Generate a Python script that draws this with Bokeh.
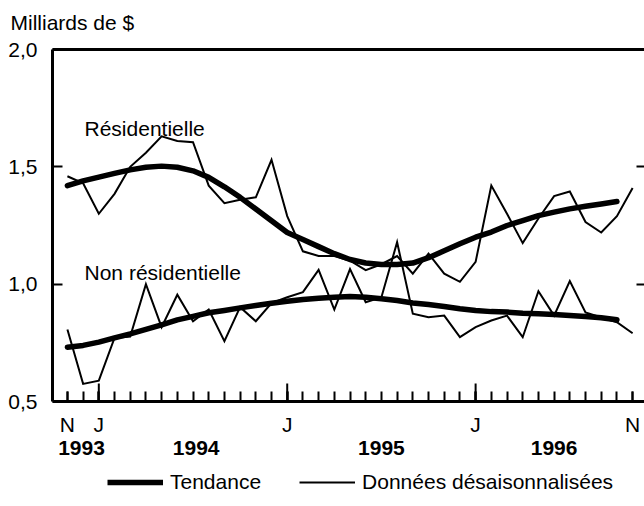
from math import pi
from bokeh.plotting import figure
from bokeh.layouts import column
from bokeh.models import (Range1d, LinearAxis, FixedTicker, Legend, LegendItem,
                          Label, ColumnDataSource)
from bokeh.embed import file_html
from bokeh.resources import INLINE

# ---- data (monthly, Nov 1993 .. Nov 1996) ----
month_index = list(range(37))
res_raw = [1.46, 1.43, 1.30, 1.385, 1.50, 1.56, 1.63, 1.61, 1.605, 1.42,
           1.345, 1.36, 1.37, 1.53, 1.29, 1.14, 1.12, 1.12, 1.10, 1.06,
           1.085, 1.12, 1.045, 1.13, 1.045, 1.01, 1.095, 1.42, 1.30, 1.175,
           1.28, 1.375, 1.395, 1.265, 1.22, 1.29, 1.41]
res_trend = [1.42, 1.44, 1.456, 1.472, 1.487, 1.498, 1.503, 1.498, 1.483, 1.455,
             1.415, 1.37, 1.32, 1.27, 1.22, 1.19, 1.16, 1.13, 1.105, 1.09,
             1.084, 1.084, 1.09, 1.113, 1.142, 1.172, 1.20, 1.222, 1.25, 1.271,
             1.292, 1.307, 1.321, 1.332, 1.342, 1.352]
nonres_raw = [0.807, 0.575, 0.589, 0.771, 0.777, 1.0, 0.817, 0.955, 0.842, 0.892,
              0.757, 0.902, 0.842, 0.919, 0.944, 0.966, 1.061, 0.892, 1.064, 0.923,
              0.944, 1.179, 0.874, 0.859, 0.866, 0.774, 0.817, 0.845, 0.866, 0.774,
              0.97, 0.866, 1.013, 0.88, 0.858, 0.838, 0.791]
nonres_trend = [0.731, 0.739, 0.753, 0.771, 0.788, 0.807, 0.827, 0.848, 0.863, 0.878,
                0.888, 0.899, 0.909, 0.919, 0.927, 0.935, 0.94, 0.944, 0.947, 0.944,
                0.938, 0.93, 0.92, 0.913, 0.905, 0.895, 0.888, 0.883, 0.881, 0.876,
                0.874, 0.871, 0.866, 0.862, 0.857, 0.848]

month_ticks = [0, 2, 14, 26, 36]
month_tick_labels = ["N", "J", "J", "J", "N"]
jan_ticks = [2, 14, 26]
year_ticks = [0.9, 8.2, 20, 31]
year_labels = ["1993", "1994", "1995", "1996"]
y_ticks = [0.5, 1.0, 1.5, 2.0]
y_tick_labels = ["0,5", "1,0", "1,5", "2,0"]
legend_labels = ["Tendance", "Données désaisonnalisées"]

FONT = "Liberation Sans"
FS = "21px"

p = figure(width=644, height=464, x_range=Range1d(-0.95, 36.757), y_range=Range1d(0.5, 2.0),
           output_backend="svg", toolbar_location=None,
           min_border_left=52, min_border_right=0, min_border_top=49, min_border_bottom=63)
p.outline_line_color = None
p.xgrid.visible = False
p.ygrid.visible = False
p.background_fill_color = "white"
p.border_fill_color = "white"

# title
p.title.text = "Milliards de $"
p.title.align = "left"
p.title.offset = -42
p.title.text_font = FONT
p.title.text_font_size = FS
p.title.text_font_style = "normal"
p.title.text_color = "black"
p.title.standoff = 10

def style_labels(ax):
    ax.major_label_text_font = FONT
    ax.major_label_text_font_size = FS
    ax.major_label_text_color = "black"

# bottom month axis
xa = p.xaxis[0]
xa.ticker = FixedTicker(ticks=month_ticks, minor_ticks=month_index)
xa.major_label_overrides = dict(zip(month_ticks, month_tick_labels))
xa.major_tick_in = 10
xa.major_tick_out = 0
xa.minor_tick_in = 10
xa.minor_tick_out = 0
xa.axis_line_width = 3
xa.axis_line_color = "black"
xa.major_tick_line_width = 2
xa.minor_tick_line_width = 2
xa.major_tick_line_color = "black"
xa.minor_tick_line_color = "black"
xa.major_label_standoff = 11
style_labels(xa)

# year axis
yr_ax = LinearAxis(ticker=FixedTicker(ticks=year_ticks, minor_ticks=[]),
                   major_label_overrides=dict(zip(year_ticks, year_labels)),
                   axis_line_color=None, major_tick_line_color=None, minor_tick_line_color=None,
                   major_tick_in=0, major_tick_out=0, minor_tick_in=0, minor_tick_out=0,
                   major_label_standoff=2)
style_labels(yr_ax)
yr_ax.major_label_text_font_style = "bold"
p.add_layout(yr_ax, "below")

# left axis
yl = p.yaxis[0]
yl.ticker = FixedTicker(ticks=y_ticks, minor_ticks=[])
yl.major_label_overrides = dict(zip(y_ticks, y_tick_labels))
yl.major_tick_in = 10
yl.major_tick_out = 0
yl.minor_tick_in = 0
yl.minor_tick_out = 0
yl.axis_line_width = 3
yl.axis_line_color = "black"
yl.major_tick_line_width = 2
yl.major_tick_line_color = "black"
yl.major_label_standoff = 15
style_labels(yl)

# right axis (ticks only)
yrt = LinearAxis(ticker=FixedTicker(ticks=y_ticks, minor_ticks=[]),
                 major_label_overrides={t: "" for t in y_ticks},
                 axis_line_color=None, major_tick_in=8, major_tick_out=0,
                 minor_tick_in=0, minor_tick_out=0, major_tick_line_width=2,
                 major_tick_line_color="black", major_label_standoff=0,
                 major_label_text_font_size="0px")
p.add_layout(yrt, "right")

# top border (invisible outward ticks only reserve room between frame and title)
xt = LinearAxis(ticker=FixedTicker(ticks=month_ticks, minor_ticks=[]), axis_line_width=3,
                axis_line_color="black", major_tick_in=0, major_tick_out=11,
                major_tick_line_color=None, minor_tick_in=0, minor_tick_out=0,
                major_label_overrides={t: "" for t in month_ticks},
                major_label_standoff=0, major_label_text_font_size="0px")
p.add_layout(xt, "above")

# tall January ticks
p.scatter(x=jan_ticks, y=[y_ticks[0]] * len(jan_ticks), marker="dash", size=36,
          angle=pi / 2, line_width=2, line_color="black")

src = ColumnDataSource(dict(x=month_index, res=res_raw, nonres=nonres_raw))
src_t = ColumnDataSource(dict(x=month_index[:len(res_trend)], res=res_trend, nonres=nonres_trend))

p.line("x", "res", source=src, line_width=2, line_color="black", line_join="miter")
p.line("x", "nonres", source=src, line_width=2, line_color="black", line_join="miter")
p.line("x", "res", source=src_t, line_width=5.5, line_color="black", line_cap="round", line_join="round")
p.line("x", "nonres", source=src_t, line_width=5.5, line_color="black", line_cap="round", line_join="round")

for txt, yv in (("Résidentielle", 1.663), ("Non résidentielle", 1.051)):
    p.add_layout(Label(x=1.09, y=yv, text=txt, text_font=FONT, text_font_size=FS,
                       text_color="black", text_baseline="alphabetic", text_align="left"))

# ---- legend strip (separate small canvas below the chart) ----
# the same series are drawn here outside the visible range, only to feed the legend glyphs
pl = figure(width=644, height=42, x_range=Range1d(-0.95, 36.757), y_range=Range1d(-2, -1),
            output_backend="svg", toolbar_location=None,
            x_axis_location=None, y_axis_location=None,
            min_border_left=0, min_border_right=0, min_border_top=0, min_border_bottom=0)
pl.outline_line_color = None
pl.grid.visible = False
lt = pl.line("x", "res", source=src_t, line_width=5.5, line_color="black")
lr = pl.line("x", "res", source=src, line_width=2, line_color="black")
legend = Legend(items=[LegendItem(label=legend_labels[0], renderers=[lt]),
                       LegendItem(label=legend_labels[1], renderers=[lr])],
                orientation="horizontal", location=(55, 12), glyph_width=56, glyph_height=20,
                label_standoff=7, spacing=38, padding=0, margin=0,
                border_line_color=None, background_fill_alpha=0,
                label_text_font=FONT, label_text_font_size=FS, label_text_color="black",
                label_height=20)
pl.add_layout(legend)

layout = column(p, pl, spacing=0)
open("out.html", "w", encoding="utf-8").write(file_html(layout, INLINE))
